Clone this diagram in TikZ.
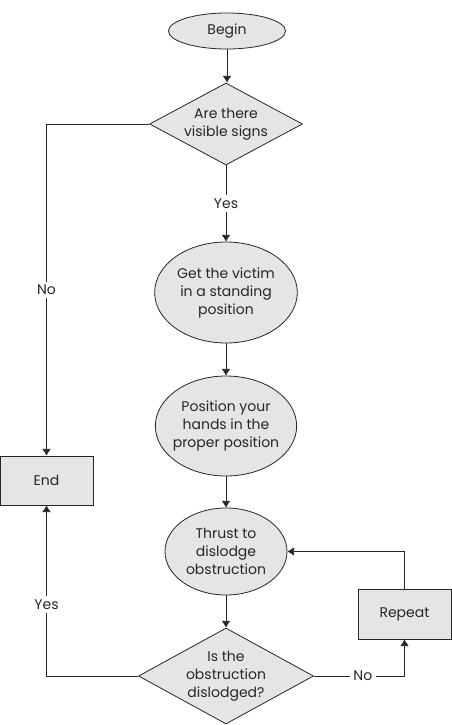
\documentclass[tikz,border=0pt]{standalone}
\usepackage{fontspec}
\setmainfont{Poppins}
\usetikzlibrary{shapes.geometric,arrows.meta}

\begin{document}
\begin{tikzpicture}[x=0.75pt,y=-0.75pt,
        font=\fontsize{10.5}{13.5}\selectfont,
        caja/.style={draw=black!85, fill=gray!20, text=black!85, align=center, inner sep=0pt, line width=0.6pt},
        burbuja/.style={caja, ellipse},
        rombo/.style={caja, diamond, aspect=1.85},
        etiqueta/.style={fill=white, text=black!85, inner sep=2.5pt},
        flecha/.style={-{Latex[length=5pt,width=6.5pt]}, draw=black!85, line width=0.6pt}]
        \useasboundingbox (0,0) rectangle (451,725);
        % Dibuja los nodos del diagrama
        \node[burbuja, minimum width=87.75pt, minimum height=27pt] (inicio) at (227,31) {Begin};
        \node[rombo, minimum width=114.75pt, minimum height=61.5pt] (signos) at (226,124) {Are there\\visible signs};
        \node[burbuja, minimum width=107pt, minimum height=75.75pt] (levantar) at (226,292.5) {Get the victim\\in a standing\\position};
        \node[burbuja, minimum width=106pt, minimum height=75pt, inner xsep=-10pt] (manos) at (226,426) {Position your\\hands in the\\proper position};
        \node[caja, minimum width=69.75pt, minimum height=36.75pt] (fin) at (46.5,480.5) {End};
        \node[burbuja, minimum width=91.5pt, minimum height=65.25pt] (empujar) at (226,551.5) {Thrust to\\dislodge\\obstruction};
        \node[rombo, minimum width=131.25pt, minimum height=72pt] (liberada) at (226,676) {Is the\\obstruction\\dislodged?};
        \node[caja, minimum width=69.75pt, minimum height=37.5pt] (repetir) at (404.5,614) {Repeat};
        % Dibuja las flechas
        \draw[flecha] (inicio.south) -- (inicio.south |- signos.north);
        \draw[flecha] (signos.west) -| node[pos=0.75, etiqueta] {No} (fin.north);
        \draw[flecha] (signos.south) -- node[etiqueta] {Yes} (levantar.north);
        \draw[flecha] (levantar.south) -- (manos.north);
        \draw[flecha] (manos.south) -- (empujar.north);
        \draw[flecha] (empujar.south) -- (liberada.north);
        \draw[flecha] (liberada.west) -| node[pos=0.71, etiqueta] {Yes} (fin.south);
        \draw[flecha] (liberada.east) -| node[pos=0.27, etiqueta] {No} (repetir.south);
        \draw[flecha] (repetir.north) |- (empujar.east);
    \end{tikzpicture}
\end{document}
